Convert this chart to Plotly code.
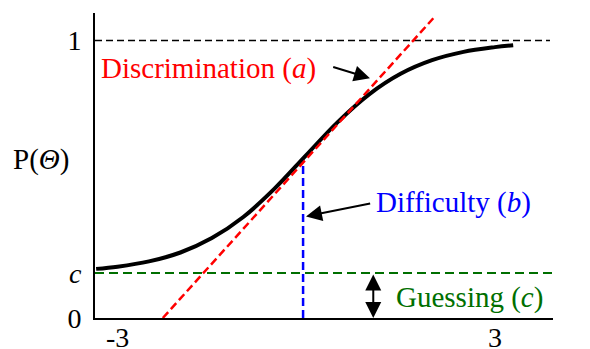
import plotly.graph_objects as go

# Item characteristic curve (theta, P)
theta_curve = [-3.34, -3.0, -2.5, -2.0, -1.5, -1.0, -0.5, 0.0, 0.5, 1.0, 1.5, 2.0, 2.5, 3.0, 3.29]
p_curve = [0.177, 0.185, 0.204, 0.236, 0.288, 0.364, 0.467, 0.587, 0.706, 0.806, 0.880, 0.929, 0.959, 0.976, 0.983]

# Tangent (discrimination) line endpoints
theta_tangent = [-2.28, 2.02]
p_tangent = [0.0, 1.08]

# Parameters
b_value = -0.05
p_at_b = 0.57
c_value = 0.162
upper_value = 1.0

x_range = [-3.358, 3.923]
y_range = [0.0, 1.099]
x_tick_vals = [-3, 3]
x_tick_text = ["-3", "3"]
y_tick_vals = [0, c_value, 1]
y_tick_text = ["0", "<i>c</i>", "1"]

FONT = "Liberation Serif"
FS = 29
FS_TICK = 28
RED = "#ff0000"
BLUE = "#0000ff"
GREEN = "#006f00"

fig = go.Figure()

# upper asymptote
fig.add_trace(go.Scatter(x=[x_range[0], 3.875], y=[upper_value, upper_value], mode="lines",
                         line=dict(color="black", width=1.5, dash="7px,4px"), hoverinfo="skip"))
# guessing line
fig.add_trace(go.Scatter(x=[x_range[0], x_range[1]], y=[c_value, c_value], mode="lines",
                         line=dict(color=GREEN, width=2, dash="9px,5px"), hoverinfo="skip"))
# difficulty line
fig.add_trace(go.Scatter(x=[b_value, b_value], y=[0, p_at_b], mode="lines",
                         line=dict(color=BLUE, width=2.5, dash="8px,4px"), hoverinfo="skip"))
# curve
fig.add_trace(go.Scatter(x=theta_curve, y=p_curve, mode="lines",
                         line=dict(color="black", width=4, shape="spline"), hoverinfo="skip"))
# tangent
fig.add_trace(go.Scatter(x=theta_tangent, y=p_tangent, mode="lines",
                         line=dict(color=RED, width=2.5, dash="8px,4px"), hoverinfo="skip"))


def f(color="black", size=FS):
    return dict(family=FONT, size=size, color=color)


anns = [
    dict(x=-3.29, y=0.90, text="Discrimination (<i>a</i>)", font=f(RED),
         xanchor="left", yanchor="middle", showarrow=False),
    dict(x=1.08, y=0.415, text="Difficulty (<i>b</i>)", font=f(BLUE),
         xanchor="left", yanchor="middle", showarrow=False),
    dict(x=1.40, y=0.073, text="Guessing (<i>c</i>)", font=f(GREEN),
         xanchor="left", yanchor="middle", showarrow=False),
    # arrows
    dict(x=1.013, y=0.864, ax=0.405, ay=0.906, axref="x", ayref="y", text="",
         showarrow=True, arrowhead=2, arrowsize=1.6, arrowwidth=2, arrowcolor="black"),
    dict(x=-0.004, y=0.366, ax=1.04, ay=0.414, axref="x", ayref="y", text="",
         showarrow=True, arrowhead=2, arrowsize=1.6, arrowwidth=2, arrowcolor="black"),
    dict(x=1.066, y=0.0, ax=1.066, ay=c_value, axref="x", ayref="y", text="",
         showarrow=True, arrowhead=2, startarrowhead=2, arrowside="end+start",
         arrowsize=1.6, startarrowsize=1.6, arrowwidth=2, arrowcolor="black"),
    # axis titles
    dict(xref="paper", yref="y", x=-0.118, y=0.57, text="P(<i>Θ</i>)", showarrow=False,
         xanchor="center", yanchor="middle", font=f()),
    dict(xref="paper", yref="y", x=1.0546, y=-0.02, text="<i>Θ</i>", showarrow=False,
         xanchor="center", yanchor="middle", font=f()),
]
# x tick labels placed on the x scale
for v, t in zip(x_tick_vals, x_tick_text):
    anns.append(dict(x=v, xref="x", yref="paper", y=-0.062, text=t, showarrow=False,
                     xanchor="center", yanchor="middle", height=22, borderpad=0,
                     font=f(size=FS_TICK)))
for a in anns:
    a.setdefault("xref", "x")
    a.setdefault("yref", "y")
fig.update_layout(annotations=anns)

fig.update_layout(
    template="none",
    width=590, height=349,
    margin=dict(l=95, r=37, t=13, b=31, pad=0),
    paper_bgcolor="white", plot_bgcolor="white",
    showlegend=False,
    font=dict(family=FONT, size=FS_TICK, color="black"),
    xaxis=dict(range=x_range, showgrid=False, zeroline=False, showline=True, automargin=False,
               linecolor="black", linewidth=2, tickvals=x_tick_vals, showticklabels=False,
               ticks=""),
    yaxis=dict(range=y_range, showgrid=False, zeroline=False, showline=True, automargin=False,
               linecolor="black", linewidth=2, tickvals=y_tick_vals, ticktext=y_tick_text,
               ticks="", ticklabelstandoff=6),
)

fig.write_html("out.html")
